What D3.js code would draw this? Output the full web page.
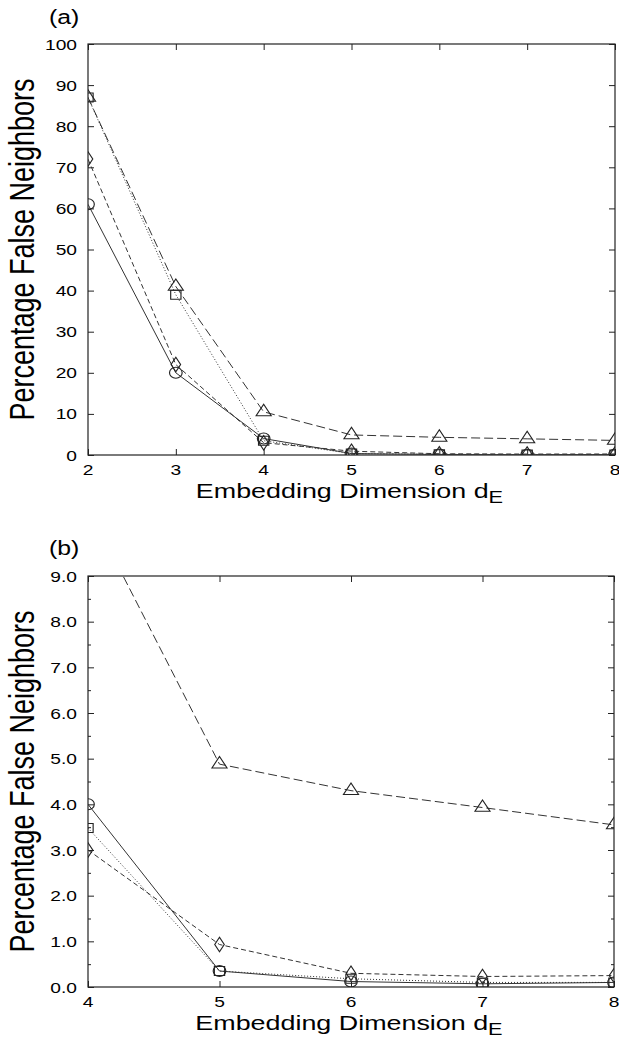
<!DOCTYPE html>
<html><head><meta charset="utf-8">
<script src="https://cdn.jsdelivr.net/npm/d3@7"></script>
<style>body{margin:0;background:#fff}svg{display:block}text{font-family:"Liberation Sans",Arial,sans-serif;fill:#000}</style>
</head><body>
<svg id="c" width="619" height="1045"></svg>
<script>
// data
const dims = [2, 3, 4, 5, 6, 7, 8];
const circleVals   = [61, 20, 4.0, 0.35, 0.12, 0.07, 0.1];
const diamondVals  = [72, 22, 3.0, 0.93, 0.30, 0.23, 0.25];
const squareVals   = [87, 39, 3.48, 0.35, 0.18, 0.10, 0.10];
const triangleVals = [87, 41, 10.5, 4.88, 4.30, 3.93, 3.55];
const ticksA = [0, 10, 20, 30, 40, 50, 60, 70, 80, 90, 100];
const ticksB = [0, 1, 2, 3, 4, 5, 6, 7, 8, 9];

const series = [
  {name: "circle", vals: circleVals, dash: null, sym: d3.symbolCircle, size: 95},
  {name: "diamond", vals: diamondVals, dash: "5,3", sym: d3.symbolDiamond, size: 60},
  {name: "square", vals: squareVals, dash: "1,2", sym: d3.symbolSquare, size: 80},
  {name: "triangle", vals: triangleVals, dash: "9,4", sym: d3.symbolTriangle, size: 75}
];

const SX = 1.28; // horizontal stretch of the lettering in the original figure
const svg = d3.select("#c");

function panel(opts) {
  const {left, right, top, bottom, xDom, yDom, yTicks, yMinor, fmt, label, labelY, id} = opts;
  const x = d3.scaleLinear().domain(xDom).range([left, right]);
  const y = d3.scaleLinear().domain(yDom).range([bottom, top]);
  const g = svg.append("g");
  const xs = dims.filter(d => d >= xDom[0] && d <= xDom[1]);

  g.append("defs").append("clipPath").attr("id", id)
    .append("rect").attr("x", left).attr("y", top).attr("width", right - left).attr("height", bottom - top);

  g.append("rect").attr("x", left).attr("y", top).attr("width", right - left).attr("height", bottom - top)
    .attr("fill", "none").attr("stroke", "#222").attr("stroke-width", 1.2);

  const ax = (gen, tr) => g.append("g").attr("transform", tr).call(gen).call(s => s.select(".domain").remove());
  ax(d3.axisBottom(x).tickValues(xs).tickSize(-6).tickFormat(""), `translate(0,${bottom})`);
  ax(d3.axisTop(x).tickValues(xs).tickSize(-6).tickFormat(""), `translate(0,${top})`);
  ax(d3.axisLeft(y).tickValues(yTicks).tickSize(-6).tickFormat(""), `translate(${left},0)`);
  ax(d3.axisRight(y).tickValues(yTicks).tickSize(-6).tickFormat(""), `translate(${right},0)`);
  if (yMinor) {
    ax(d3.axisLeft(y).tickValues(yMinor).tickSize(-3).tickFormat(""), `translate(${left},0)`);
    ax(d3.axisRight(y).tickValues(yMinor).tickSize(-3).tickFormat(""), `translate(${right},0)`);
  }
  g.selectAll(".tick line").attr("stroke", "#222");

  // tick labels (stretched horizontally like the original)
  g.selectAll(null).data(xs).join("text")
    .attr("transform", d => `translate(${x(d)},${bottom + 20}) scale(${SX},1)`)
    .attr("text-anchor", "middle").attr("font-size", 15).text(d3.format("d"));
  g.selectAll(null).data(yTicks).join("text")
    .attr("transform", d => `translate(77,${y(d) + 5.5}) scale(${SX},1)`)
    .attr("text-anchor", "end").attr("font-size", 15).text(fmt);

  const plot = g.append("g").attr("clip-path", `url(#${id})`);
  const line = d3.line().x(d => x(d[0])).y(d => y(d[1]));
  series.forEach(s => {
    const pts = dims.map((d, i) => [d, s.vals[i]]).filter(p => p[0] >= xDom[0] && p[0] <= xDom[1]);
    plot.append("path").attr("d", line(pts)).attr("fill", "none").attr("stroke", "#333")
      .attr("stroke-width", 1).attr("stroke-dasharray", s.dash);
    plot.selectAll(null).data(pts.filter(p => p[1] <= yDom[1])).join("path")
      .attr("transform", p => `translate(${x(p[0])},${y(p[1])}) scale(1.15,1)`)
      .attr("d", d3.symbol().type(s.sym).size(s.size))
      .attr("fill", "none").attr("stroke", "#222").attr("stroke-width", 1);
  });

  g.append("text").attr("transform", `translate(49,${labelY}) scale(1.18,1)`).attr("font-size", 21).text(label);
  g.append("text").attr("transform", `translate(34,${(top + bottom) / 2}) scale(${SX},1) rotate(-90)`)
    .attr("text-anchor", "middle").attr("font-size", 27).text("Percentage False Neighbors");
  const t = g.append("text").attr("transform", `translate(${(left + right) / 2 - 2},${bottom + 43}) scale(${SX},1)`)
    .attr("text-anchor", "middle").attr("font-size", 21);
  t.append("tspan").text("Embedding Dimension d");
  t.append("tspan").attr("font-size", 17).attr("dy", 5).text("E");
}

panel({left: 88, right: 615, top: 44, bottom: 455, xDom: [2, 8], yDom: [0, 100],
  yTicks: ticksA, yMinor: null, fmt: d3.format("d"), label: "(a)", labelY: 24, id: "ca"});
panel({left: 88, right: 614, top: 576, bottom: 987, xDom: [4, 8], yDom: [0, 9],
  yTicks: ticksB, yMinor: ticksB.slice(0, -1).map(v => v + 0.5), fmt: d3.format(".1f"), label: "(b)", labelY: 555, id: "cb"});
</script>
</body></html>
